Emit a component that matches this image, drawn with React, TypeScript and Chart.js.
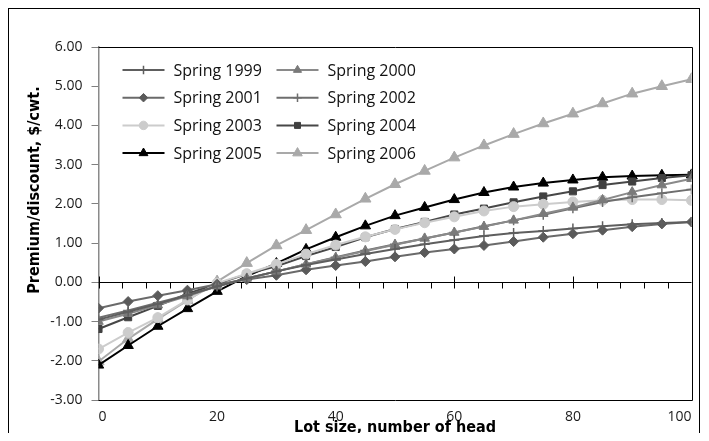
import React, { useEffect, useRef } from 'react';
import { Chart, registerables } from 'chart.js';
import { drawPoint } from 'chart.js/helpers';

Chart.register(...registerables);

const LOT_SIZES = [0, 5, 10, 15, 20, 25, 30, 35, 40, 45, 50, 55, 60, 65, 70, 75, 80, 85, 90, 95, 100];

const SPRING_1999 = [-0.95, -0.75, -0.55, -0.33, -0.10, 0.10, 0.28, 0.44, 0.58, 0.72, 0.85, 0.97, 1.08, 1.18, 1.26, 1.31, 1.37, 1.43, 1.48, 1.51, 1.54];
const SPRING_2000 = [-1.00, -0.80, -0.58, -0.35, -0.10, 0.10, 0.28, 0.46, 0.63, 0.80, 0.96, 1.12, 1.27, 1.42, 1.58, 1.75, 1.91, 2.10, 2.30, 2.48, 2.64];
const SPRING_2001 = [-0.66, -0.49, -0.34, -0.20, -0.05, 0.07, 0.18, 0.32, 0.43, 0.53, 0.65, 0.76, 0.85, 0.94, 1.04, 1.15, 1.24, 1.33, 1.42, 1.49, 1.54];
const SPRING_2002 = [-0.90, -0.72, -0.52, -0.32, -0.10, 0.10, 0.28, 0.46, 0.64, 0.81, 0.97, 1.12, 1.27, 1.43, 1.58, 1.72, 1.89, 2.05, 2.17, 2.27, 2.37];
const SPRING_2003 = [-1.70, -1.28, -0.90, -0.45, -0.02, 0.22, 0.46, 0.72, 0.95, 1.16, 1.35, 1.52, 1.67, 1.82, 1.93, 1.99, 2.05, 2.09, 2.11, 2.11, 2.09];
const SPRING_2004 = [-1.19, -0.89, -0.60, -0.29, -0.04, 0.21, 0.41, 0.67, 0.90, 1.15, 1.36, 1.54, 1.73, 1.88, 2.04, 2.19, 2.32, 2.48, 2.57, 2.66, 2.73];
const SPRING_2005 = [-2.11, -1.61, -1.12, -0.67, -0.23, 0.16, 0.48, 0.84, 1.15, 1.44, 1.70, 1.91, 2.11, 2.29, 2.43, 2.53, 2.61, 2.68, 2.71, 2.73, 2.74];
const SPRING_2006 = [-2.02, -1.44, -0.94, -0.46, 0.02, 0.49, 0.94, 1.33, 1.73, 2.13, 2.50, 2.84, 3.18, 3.49, 3.78, 4.05, 4.30, 4.56, 4.81, 5.00, 5.18];

const SERIES_NAMES = ['Spring 1999', 'Spring 2000', 'Spring 2001', 'Spring 2002', 'Spring 2003', 'Spring 2004', 'Spring 2005', 'Spring 2006'];
const SERIES_VALUES = [SPRING_1999, SPRING_2000, SPRING_2001, SPRING_2002, SPRING_2003, SPRING_2004, SPRING_2005, SPRING_2006];

const X_MIN = 0;
const X_MAX = 100;
const X_MAJOR_STEP = 20;
const X_MINOR_STEP = 4;
const Y_MIN = -3;
const Y_MAX = 6;
const Y_STEP = 1;

const X_TITLE = 'Lot size, number of head';
const Y_TITLE = 'Premium/discount, $/cwt.';

const STYLES = [
  { line: '#5e5e5e', fill: '#5e5e5e', point: 'cross', radius: 5, pbw: 1.5 },
  { line: '#8a8a8a', fill: '#7a7a7a', point: 'triangle', radius: 5.5, pbw: 1 },
  { line: '#6a6a6a', fill: '#5a5a5a', point: 'rectRot', radius: 5, pbw: 1 },
  { line: '#6e6e6e', fill: '#6e6e6e', point: 'cross', radius: 5, pbw: 1.5 },
  { line: '#cccccc', fill: '#cccccc', point: 'circle', radius: 5, pbw: 1 },
  { line: '#474747', fill: '#404040', point: 'rect', radius: 5, pbw: 1 },
  { line: '#000000', fill: '#000000', point: 'triangle', radius: 6, pbw: 1 },
  { line: '#a9a9a9', fill: '#a9a9a9', point: 'triangle', radius: 6.5, pbw: 1 },
];

const TICK_FONT = { family: "'Open Sans', 'Noto Sans', sans-serif", size: 14 };
const TITLE_FAMILY = "'Liberation Sans Narrow', 'DejaVu Sans Condensed', 'Roboto Condensed', 'Liberation Sans', sans-serif";
const LEGEND_FONT = "16px 'Open Sans', 'Noto Sans', sans-serif";

const frameAndAxisPlugin = {
  id: 'frameAndAxis',
  beforeDatasetsDraw(chart: any) {
    const { ctx, chartArea, scales } = chart;
    const { left, right, top, bottom } = chartArea;
    const xs = scales.x;
    const ys = scales.y;
    const y0 = Math.round(ys.getPixelForValue(0)) + 0.5;
    ctx.save();
    ctx.strokeStyle = '#000';
    ctx.lineWidth = 1;
    ctx.beginPath();
    ctx.moveTo(left, y0);
    ctx.lineTo(right, y0);
    for (let v = X_MIN; v <= X_MAX; v += X_MINOR_STEP) {
      const px = Math.round(xs.getPixelForValue(v)) + 0.5;
      const major = v % X_MAJOR_STEP === 0;
      ctx.moveTo(px, major ? y0 - 6 : y0);
      ctx.lineTo(px, y0 + 6);
    }
    ctx.stroke();
    ctx.beginPath();
    ctx.moveTo(left, Math.round(top) + 0.5);
    ctx.lineTo(Math.round(right) + 0.5, Math.round(top) + 0.5);
    ctx.lineTo(Math.round(right) + 0.5, Math.round(bottom) + 0.5);
    ctx.lineTo(left, Math.round(bottom) + 0.5);
    ctx.stroke();
    ctx.restore();
  },
};

const titleAndLegendPlugin = {
  id: 'titleAndLegend',
  afterDraw(chart: any) {
    const { ctx, chartArea } = chart;
    const { left, right, top, bottom } = chartArea;
    ctx.save();
    ctx.font = `bold 16px ${TITLE_FAMILY}`;
    ctx.fillStyle = '#000';
    ctx.textAlign = 'center';
    ctx.textBaseline = 'middle';
    // x axis title
    ctx.fillText(X_TITLE, (left + right) / 2, bottom + 28);
    // y axis title
    ctx.save();
    ctx.translate(26, 181);
    ctx.rotate(-Math.PI / 2);
    ctx.fillText(Y_TITLE, 0, 0);
    ctx.restore();
    // legend
    ctx.font = LEGEND_FONT;
    ctx.textBaseline = 'middle';
    ctx.textAlign = 'left';
    SERIES_NAMES.forEach((name, i) => {
      const col = i % 2;
      const row = Math.floor(i / 2);
      const lx = left + 24 + col * 154;
      const cy = top + 23 + row * 27.7;
      const st = STYLES[i];
      ctx.strokeStyle = st.line;
      ctx.lineWidth = 2;
      ctx.beginPath();
      ctx.moveTo(lx, cy);
      ctx.lineTo(lx + 42, cy);
      ctx.stroke();
      ctx.fillStyle = st.fill;
      ctx.strokeStyle = st.fill;
      ctx.lineWidth = st.pbw;
      drawPoint(ctx, { pointStyle: st.point, radius: st.radius * 0.85, rotation: 0, borderWidth: st.pbw }, lx + 21, cy);
      ctx.fillStyle = '#111';
      ctx.fillText(name, lx + 51, cy + 1);
    });
    ctx.restore();
  },
};

export default function App() {
  const canvasRef = useRef<HTMLCanvasElement | null>(null);

  useEffect(() => {
    const canvas = canvasRef.current;
    if (!canvas) return;
    const datasets = SERIES_NAMES.map((name, i) => ({
      label: name,
      data: LOT_SIZES.map((x, j) => ({ x, y: SERIES_VALUES[i][j] })),
      showLine: true,
      borderColor: STYLES[i].line,
      borderWidth: 2,
      backgroundColor: STYLES[i].fill,
      pointStyle: STYLES[i].point,
      pointRadius: STYLES[i].radius,
      pointBackgroundColor: STYLES[i].fill,
      pointBorderColor: STYLES[i].fill,
      pointBorderWidth: STYLES[i].pbw,
      tension: 0,
      fill: false,
    }));
    const chart = new Chart(canvas, {
      type: 'scatter',
      data: { datasets },
      options: {
        responsive: false,
        animation: false,
        layout: { padding: { top: 38, right: 2, left: 0, bottom: 0 } },
        plugins: { legend: { display: false }, tooltip: { enabled: false }, title: { display: false } },
        scales: {
          x: {
            type: 'linear',
            min: X_MIN,
            max: X_MAX,
            afterFit: (s: any) => { s.height = 41; },
            ticks: { stepSize: X_MAJOR_STEP, font: TICK_FONT, color: '#1a1a1a', padding: 1, maxRotation: 0, align: 'inner' },
            grid: { display: false },
            border: { display: false },
            title: { display: false },
          },
          y: {
            type: 'linear',
            min: Y_MIN,
            max: Y_MAX,
            afterFit: (s: any) => { s.width = 89.5; },
            ticks: { stepSize: Y_STEP, font: TICK_FONT, color: '#1a1a1a', padding: 9, callback: (v: any) => Number(v).toFixed(2) },
            grid: { display: true, drawOnChartArea: false, drawTicks: true, tickLength: 7, color: '#808080' },
            border: { display: true, color: '#8a8a8a', width: 1.5 },
            title: { display: false },
          },
        },
      },
      plugins: [frameAndAxisPlugin, titleAndLegendPlugin],
    } as any);
    return () => chart.destroy();
  }, []);

  return (
    <div
      style={{
        position: 'relative',
        width: 690,
        height: 432,
        marginBottom: -8,
        borderLeft: '1px solid #000',
        borderTop: '1px solid #000',
        borderRight: '1px solid #000',
        background: '#fff',
      }}
    >
      <canvas ref={canvasRef} width={690} height={432} style={{ display: 'block', width: 690, height: 432 }} />
    </div>
  );
}
